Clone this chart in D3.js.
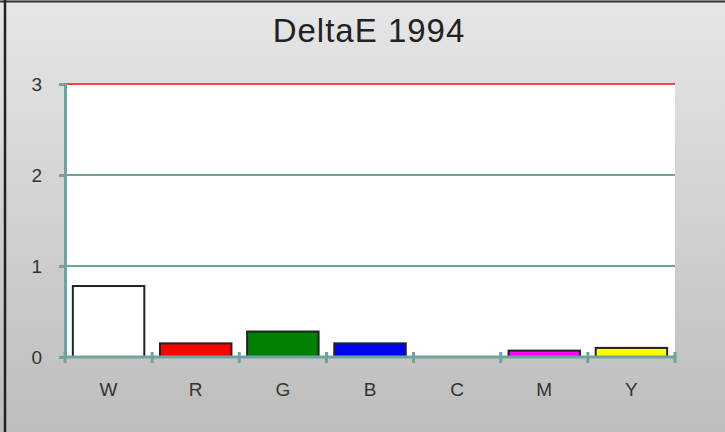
<!DOCTYPE html>
<html>
<head>
<meta charset="utf-8">
<script src="https://cdn.jsdelivr.net/npm/d3@7"></script>
<style>
  body { margin: 0; }
  svg { display: block; font-family: "Liberation Sans", Arial, sans-serif; }
</style>
</head>
<body>
<div id="chart"></div>
<script>
// Chart data
const categories = ["W", "R", "G", "B", "C", "M", "Y"];
const deltaE = [0.78, 0.15, 0.28, 0.15, 0, 0.07, 0.1];
const barColors = ["#ffffff", "#ff0000", "#008000", "#0000ff", "#00ffff", "#ff00ff", "#ffff00"];
const yTicks = [0, 1, 2, 3];

const width = 725, height = 432;
const margin = {top: 84, right: 50, bottom: 75, left: 65};

const svg = d3.select("#chart")
    .append("svg")
    .attr("width", width)
    .attr("height", height);

// Background gradient
const grad = svg.append("defs").append("linearGradient")
    .attr("id", "bg").attr("x1", 0).attr("y1", 0).attr("x2", 0).attr("y2", 1);
grad.append("stop").attr("offset", "0%").attr("stop-color", "#e6e6e6");
grad.append("stop").attr("offset", "100%").attr("stop-color", "#bdbdbd");

svg.append("rect")
    .attr("width", width).attr("height", height)
    .attr("fill", "url(#bg)");

// Frame lines (top and left)
svg.append("line").attr("x1", 0).attr("x2", width).attr("y1", 1.5).attr("y2", 1.5)
    .attr("stroke", "#333").attr("stroke-width", 2);
svg.append("line").attr("x1", 5).attr("x2", 5).attr("y1", 0).attr("y2", height)
    .attr("stroke", "#222").attr("stroke-width", 2.5);

const x = d3.scaleBand()
    .domain(categories)
    .range([margin.left, width - margin.right])
    .paddingInner(0.18)
    .paddingOuter(0.09);

const y = d3.scaleLinear()
    .domain([0, 3])
    .range([height - margin.bottom, margin.top]);

const axisColor = "#6fa3a0";
const x0 = margin.left, x1 = width - margin.right;

// Plot area
svg.append("rect")
    .attr("x", x0).attr("y", y(3))
    .attr("width", x1 - x0).attr("height", y(0) - y(3))
    .attr("fill", "#ffffff");

// Gridlines
svg.append("g")
    .selectAll("line")
    .data(yTicks.filter(d => d > 0))
    .enter()
    .append("line")
    .attr("x1", x0).attr("x2", x1)
    .attr("y1", d => y(d)).attr("y2", d => y(d))
    .attr("stroke", d => d === 3 ? "#ff4444" : axisColor)
    .attr("stroke-width", 2);

// Bars
svg.append("g")
    .selectAll("rect")
    .data(categories)
    .enter()
    .filter((d, i) => deltaE[i] > 0)
    .append("rect")
    .attr("x", d => x(d))
    .attr("width", x.bandwidth())
    .attr("y", d => y(deltaE[categories.indexOf(d)]))
    .attr("height", d => y(0) - y(deltaE[categories.indexOf(d)]))
    .attr("fill", d => barColors[categories.indexOf(d)])
    .attr("stroke", "#222")
    .attr("stroke-width", 2);

// Y axis
const yAxis = svg.append("g")
    .attr("transform", `translate(${x0},0)`)
    .call(d3.axisLeft(y).tickValues(yTicks).tickSize(6).tickPadding(17).tickFormat(d3.format("d")));
yAxis.select(".domain").attr("stroke", axisColor).attr("stroke-width", 3);
yAxis.selectAll(".tick line").attr("stroke", axisColor).attr("stroke-width", 3);
yAxis.selectAll(".tick text")
    .attr("fill", "#333").style("font-size", "19px").style("font-family", "Liberation Sans, Arial, sans-serif");

// X axis: ticks at category boundaries
const bounds = d3.range(categories.length + 1).map(i => x0 + i * (x1 - x0) / categories.length);
svg.append("line")
    .attr("x1", x0).attr("x2", x1)
    .attr("y1", y(0)).attr("y2", y(0))
    .attr("stroke", axisColor).attr("stroke-width", 3);
svg.append("g")
    .selectAll("line")
    .data(bounds)
    .enter()
    .append("line")
    .attr("x1", d => d).attr("x2", d => d)
    .attr("y1", y(0) - 5).attr("y2", y(0) + 6)
    .attr("stroke", axisColor).attr("stroke-width", 3);

svg.append("g")
    .selectAll("text")
    .data(categories)
    .enter()
    .append("text")
    .attr("x", d => x(d) + x.bandwidth() / 2)
    .attr("y", 396)
    .attr("text-anchor", "middle")
    .attr("fill", "#333")
    .style("font-size", "19px")
    .text(d => d);

// Title
svg.append("text")
    .attr("x", 369)
    .attr("y", 42)
    .attr("text-anchor", "middle")
    .attr("fill", "#222")
    .style("font-size", "33px")
    .style("letter-spacing", "1px")
    .text("DeltaE 1994");
</script>
</body>
</html>
